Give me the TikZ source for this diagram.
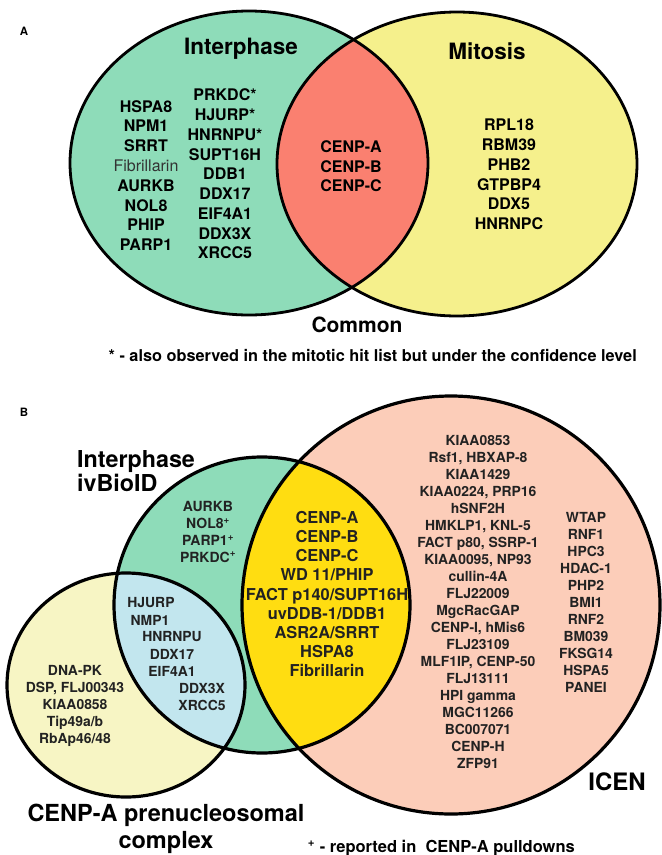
\documentclass[tikz,border=0pt]{standalone}
\usepackage{fontspec}
\setmainfont{TeX Gyre Heros}
\definecolor{mintA}{HTML}{8EDCB9}
\definecolor{salmonA}{HTML}{FA8070}
\definecolor{yellowA}{HTML}{F5F08C}
\definecolor{peachB}{HTML}{FCCDB9}
\definecolor{goldB}{HTML}{FFDD11}
\definecolor{paleB}{HTML}{F7F5C4}
\definecolor{blueB}{HTML}{C2E6EE}
\definecolor{txtB}{HTML}{222222}
\tikzset{
  outlineA/.style={line width=2.8pt, draw=black},
  outlineB/.style={line width=3.2pt, draw=black},
  genesA/.style={inner sep=0pt, align=center, font=\fontsize{16}{19.8}\selectfont\bfseries},
  titleA/.style={inner sep=0pt, font=\fontsize{22.5}{26}\selectfont\bfseries},
  genesB/.style={inner sep=0pt, align=center, text=txtB, font=\fontsize{13.9}{17}\selectfont\bfseries},
  lensB/.style={inner sep=0pt, align=center, text=txtB, font=\fontsize{16.4}{19.2}\selectfont\bfseries},
  panel/.style={inner sep=0pt, font=\fontsize{11.5}{13}\selectfont\bfseries},
  note/.style={inner sep=0pt, font=\fontsize{16.3}{19}\selectfont\bfseries},
}
\begin{document}
\begin{tikzpicture}[x=1pt,y=-1pt]
\useasboundingbox (0,0) rectangle (662,855);
% ---------------- Panel A ----------------
\fill[mintA] (249,163) ellipse [x radius=179pt, y radius=152pt];
\fill[yellowA] (457,164) ellipse [x radius=180pt, y radius=152pt];
\begin{scope}
  \clip (249,163) ellipse [x radius=179pt, y radius=152pt];
  \fill[salmonA] (457,164) ellipse [x radius=180pt, y radius=152pt];
\end{scope}
\draw[outlineA] (249,163) ellipse [x radius=179pt, y radius=152pt];
\draw[outlineA] (457,164) ellipse [x radius=180pt, y radius=152pt];

\node[panel] (labA) at (24,31) {A};
\node[titleA] (interA) at (241,49) {Interphase};
\node[titleA] (mitA) at (487,51) {Mitosis};
\node[inner sep=0pt, font=\fontsize{21}{24}\selectfont\bfseries] (comA) at (357,325) {Common};

\node[genesA] (colA1) at (146,175.5) {HSPA8\\NPM1\\SRRT\\{\mdseries\color[HTML]{333333}Fibrillarin}\\AURKB\\NOL8\\PHIP\\PARP1};
\node[genesA, font=\fontsize{16}{19.75}\selectfont\bfseries] (colA2) at (225,174) {PRKDC*\\HJURP*\\HNRNPU*\\SUPT16H\\DDB1\\DDX17\\EIF4A1\\DDX3X\\XRCC5};
\node[genesA, font=\fontsize{16}{19.5}\selectfont\bfseries] (comList) at (351,166.5) {CENP-A\\CENP-B\\CENP-C};
\node[genesA] (mitList) at (509,174.5) {RPL18\\RBM39\\PHB2\\GTPBP4\\DDX5\\HNRNPC};

\node[note, anchor=east] (noteA) at (637,355) {* - also observed in the mitotic hit list but under the confidence level};

% ---------------- Panel B ----------------
\node[panel] (labB) at (24,412) {B};
\fill[peachB] (451,605) circle [radius=209pt];
\fill[mintA] (262,605) circle [radius=148pt];
\fill[paleB] (126,685) ellipse [x radius=119pt, y radius=112pt];
\begin{scope}
  \clip (262,605) circle [radius=148pt];
  \fill[goldB] (451,605) circle [radius=209pt];
\end{scope}
\begin{scope}
  \clip (262,605) circle [radius=148pt];
  \fill[blueB] (126,685) ellipse [x radius=119pt, y radius=112pt];
\end{scope}
\draw[outlineB] (451,605) circle [radius=209pt];
\draw[outlineB] (262,605) circle [radius=148pt];
\draw[outlineB] (126,685) ellipse [x radius=119pt, y radius=112pt];

\node[inner sep=0pt, anchor=west, align=left, font=\fontsize{23.3}{24}\selectfont\bfseries] (interB) at (77,471) {Interphase\\ivBioID};
\node[genesB, font=\fontsize{14}{16.7}\selectfont\bfseries] (greenB) at (208,532) {AURKB\\NOL8\textsuperscript{+}\\PARP1\textsuperscript{+}\\PRKDC\textsuperscript{+}};
\node[lensB] (lensList) at (327,594) {CENP-A\\CENP-B\\CENP-C\\WD 11/PHIP\\FACT p140/SUPT16H\\uvDDB-1/DDB1\\ASR2A/SRRT\\HSPA8\\Fibrillarin};

\node[genesB] (b1) at (151,603) {HJURP};
\node[genesB] (b2) at (150,620) {NMP1};
\node[genesB] (b3) at (172,637) {HNRNPU};
\node[genesB] (b4) at (172,654) {DDX17};
\node[genesB] (b5) at (172,671) {EIF4A1};
\node[genesB] (b6) at (202,688) {DDX3X};
\node[genesB] (b7) at (202,705) {XRCC5};

\node[genesB] (preList) at (75,706) {DNA-PK\\DSP, FLJ00343\\KIAA0858\\Tip49a/b\\RbAp46/48};

\node[genesB] (icen1) at (478,601.5) {KIAA0853\\Rsf1, HBXAP-8\\KIAA1429\\KIAA0224, PRP16\\hSNF2H\\HMKLP1, KNL-5\\FACT p80, SSRP-1\\KIAA0095, NP93\\cullin-4A\\FLJ22009\\MgcRacGAP\\CENP-I, hMis6\\FLJ23109\\MLF1IP, CENP-50\\FLJ13111\\HPI gamma\\MGC11266\\BC007071\\CENP-H\\ZFP91};
\node[genesB] (icen2) at (586,602) {WTAP\\RNF1\\HPC3\\HDAC-1\\PHP2\\BMI1\\RNF2\\BM039\\FKSG14\\HSPA5\\PANEI};

\node[inner sep=0pt, font=\fontsize{24}{26}\selectfont\bfseries] (icenL) at (617,782) {ICEN};
\node[inner sep=0pt, align=center, font=\fontsize{23.5}{27}\selectfont\bfseries] (preL) at (166,829) {CENP-A prenucleosomal\\complex};
\node[note, font=\fontsize{16.5}{19}\selectfont\bfseries, anchor=east] (noteB) at (575,848) {\textsuperscript{+} - reported in\ \ CENP-A pulldowns};
\end{tikzpicture}
\end{document}
